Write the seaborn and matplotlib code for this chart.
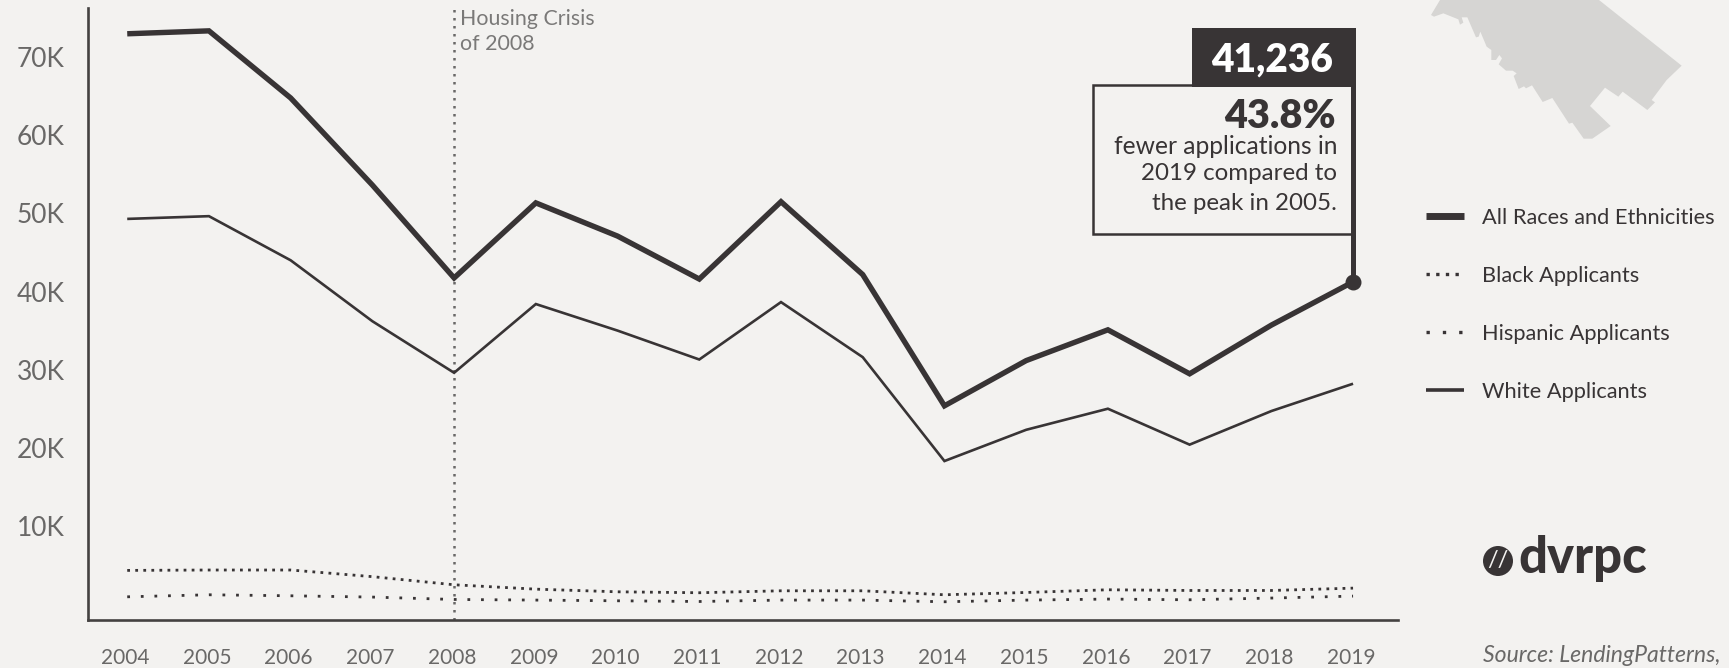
import matplotlib
matplotlib.use("Agg")
import matplotlib.pyplot as plt
from matplotlib.patches import Polygon, Rectangle, Circle
from matplotlib.transforms import Affine2D
import seaborn as sns

years = list(range(2004, 2020))
all_races = [73000, 73374, 64780, 53630, 41740, 51350, 47100, 41600, 51500, 42170, 25370, 31160, 35100, 29470, 35700, 41236]
white = [49300, 49650, 44000, 36200, 29600, 38400, 35000, 31300, 38650, 31600, 18300, 22300, 25000, 20400, 24700, 28200]
black = [4300, 4350, 4350, 3500, 2460, 1900, 1560, 1440, 1690, 1690, 1180, 1475, 1820, 1730, 1730, 2030]
hispanic = [920, 1180, 1050, 885, 580, 500, 410, 320, 500, 500, 285, 500, 630, 540, 760, 1010]
y_ticks = [10000, 20000, 30000, 40000, 50000, 60000, 70000]
y_labels = ["10K", "20K", "30K", "40K", "50K", "60K", "70K"]

map_crop = [(33, 45), (60, 0), (537, 0), (785, 197), (740, 240), (695, 300), (705, 307), (682, 330), (608, 275), (595, 290),
            (555, 263), (510, 318), (572, 378), (517, 416), (491, 416), (457, 368), (447, 371), (397, 294), (368, 306),
            (336, 256), (318, 265), (312, 259), (296, 267), (281, 228), (290, 220), (278, 212), (258, 212), (236, 193),
            (246, 175), (238, 165), (228, 180), (214, 180), (214, 150), (200, 140), (181, 95), (176, 110), (168, 112),
            (142, 52), (125, 52), (130, 68), (120, 74), (115, 58), (70, 40), (42, 50)]

BG = "#f3f2f0"
DARK = "#383435"
GREY = "#696867"
W, H = 1729, 668

sns.set_style("white")
plt.rcParams["font.family"] = ["Lato", "DejaVu Sans"]

fig = plt.figure(figsize=(W / 100, H / 100), dpi=100, facecolor=BG)
ax = fig.add_axes([88 / W, 1 - 620 / H, (1398 - 88) / W, (620 - 8) / H], facecolor=BG)

sns.lineplot(x=years, y=all_races, ax=ax, color=DARK, linewidth=3.9, label="All Races and Ethnicities",
             solid_joinstyle="miter", solid_capstyle="butt")
sns.lineplot(x=years, y=black, ax=ax, color=DARK, linewidth=2.0, linestyle=(0, (1, 1.9)), label="Black Applicants")
sns.lineplot(x=years, y=hispanic, ax=ax, color=DARK, linewidth=2.0, linestyle=(0, (1, 3.9)), label="Hispanic Applicants")
sns.lineplot(x=years, y=white, ax=ax, color=DARK, linewidth=1.9, label="White Applicants",
             solid_joinstyle="miter", solid_capstyle="butt")

ax.set_xlim(2003.52, 2019.55)
ax.set_ylim(-2049, 76300)
ax.axvline(2008, color=GREY, linewidth=1.8, linestyle=(0, (1, 2.2)), zorder=1)

ax.set_xticks(years)
ax.set_yticks(y_ticks)
ax.set_yticklabels(y_labels)
ax.tick_params(axis="x", length=0, pad=20, labelsize=15, labelcolor=GREY)
ax.tick_params(axis="y", length=0, pad=17, labelsize=19, labelcolor=GREY)
for lab in ax.get_xticklabels():
    lab.set_transform(lab.get_transform() + Affine2D().translate(-2, 0))
for s in ["top", "right"]:
    ax.spines[s].set_visible(False)
for s in ["left", "bottom"]:
    ax.spines[s].set_color("#444241")
    ax.spines[s].set_linewidth(1.9)

handles, labels = ax.get_legend_handles_labels()
ax.legend_.remove()
leg = fig.legend(handles, labels, loc="upper left", bbox_to_anchor=(1406 / W, 1 - 188 / H), frameon=False,
                 fontsize=15.7, labelcolor=DARK, handlelength=1.75, handletextpad=0.82, labelspacing=1.75)
leg.get_lines()[0].set_linewidth(5)
leg.get_lines()[1].set_linewidth(2.4)
leg.get_lines()[2].set_linewidth(2.4)
leg.get_lines()[3].set_linewidth(2.6)

px = Affine2D().scale(1, -1).translate(0, H)  # pixel coords, y down
map_outline = [(1420 + x / 3, y / 3) for x, y in map_crop]
fig.add_artist(Polygon(map_outline, closed=True, facecolor="#d6d5d3", edgecolor="none", transform=px))

# callout
fig.add_artist(Rectangle((1093, 85), 259, 149, facecolor=BG, edgecolor=DARK, linewidth=1.8, transform=px))
fig.add_artist(Rectangle((1192, 28), 164, 59, facecolor=DARK, edgecolor="none", transform=px))
fig.add_artist(Rectangle((1351, 87), 4.5, 195, facecolor=DARK, edgecolor="none", transform=px))
ax.scatter([years[-1]], [all_races[-1]], s=110, color=DARK, zorder=5, clip_on=False)


def ftext(x, y, s, **kw):
    fig.text(x / W, 1 - y / H, s, **kw)


ftext(1272, 60, "41,236", color="white", fontsize=28, fontweight="heavy", ha="center", va="center")
ftext(1336, 116, "43.8%", color=DARK, fontsize=28.5, fontweight="heavy", ha="right", va="center")
ftext(1337, 146, "fewer applications in", color=DARK, fontsize=17.7, ha="right", va="center")
ftext(1337, 174, "2019 compared to", color=DARK, fontsize=17.4, ha="right", va="center")
ftext(1337, 203, "the peak in 2005.", color=DARK, fontsize=17.4, ha="right", va="center")

ftext(460, 19, "Housing Crisis", color="#7a7978", fontsize=15.4, va="center")
ftext(460, 44, "of 2008", color="#7a7978", fontsize=15.4, va="center")

# logo
fig.add_artist(Circle((1498, 561), 15, facecolor=DARK, edgecolor="none", transform=px))
ftext(1498, 561, "//", color=BG, fontsize=17, ha="center", va="center")
ftext(1518, 573, "dvrpc", color=DARK, fontsize=36.5, fontweight="black", va="baseline")

ftext(1483, 655, "Source: LendingPatterns,", color=GREY, fontsize=16.6, fontstyle="italic", va="center")

fig.savefig("out.png", dpi=100, facecolor=BG)
